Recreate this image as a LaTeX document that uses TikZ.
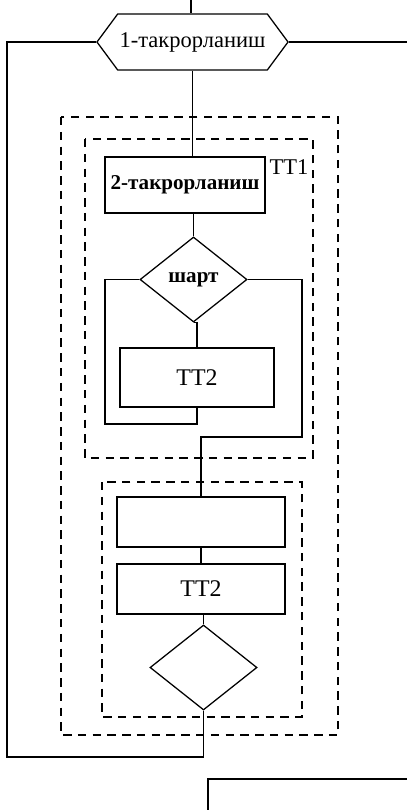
\documentclass[tikz,border=0pt]{standalone}
\usepackage{fontspec}
\setmainfont{Liberation Serif}
\usetikzlibrary{shapes.geometric,shapes.symbols}

\tikzset{
  blk/.style={draw, rectangle, inner sep=0pt, line width=0.9pt},
  cond/.style={draw, diamond, inner sep=0pt, line width=0.9pt,
    minimum width=2.675cm, minimum height=2.125cm},
  loophead/.style={draw, signal, signal to=east and west,
    signal pointer angle=107, inner sep=0pt, line width=0.9pt,
    minimum width=4.775cm, minimum height=1.4cm},
  frame/.style={line width=0.9pt, dash pattern=on 6pt off 4.5pt},
  wire/.style={line width=0.9pt},
  txt/.style={font=\fontsize{16}{18}\selectfont},
  btxt/.style={font=\fontsize{15}{18}\selectfont\bfseries}
}

\begin{document}
\begin{tikzpicture}[x=0.025cm, y=-0.025cm]
  \useasboundingbox (0,0) rectangle (407,810);
  \clip (0,0) rectangle (407,810);

  % outer loop
  \node[loophead, txt] (hex) at (192.5,42) {1-такрорланиш};
  \coordinate (entry) at (191,0);
  \coordinate (exitR) at (407,42);
  \coordinate (loopL) at (7,757);

  % groups
  \draw[frame] (61,117) rectangle (338,735);
  \draw[frame] (85,139) rectangle (313,458);
  \draw[frame] (102,482) rectangle (302,717);
  \node[txt] (tt1) at (289,167) {TT1};

  % inner loop
  \node[blk, btxt, minimum width=4cm, minimum height=1.4cm] (inner) at (185,185) {2-такрорланиш};
  \node[cond, btxt] (shart) at (193.5,279.5) {шарт};
  \node[blk, txt, font=\fontsize{17}{19}\selectfont, minimum width=3.85cm, minimum height=1.475cm] (tta) at (197,377.5) {TT2};
  \coordinate (backL) at (105,424);
  \coordinate (outR) at (302,437);

  % body after the inner loop
  \node[blk, minimum width=4.2cm, minimum height=1.25cm] (empty) at (201,522) {};
  \node[blk, txt, font=\fontsize{17}{19}\selectfont, minimum width=4.2cm, minimum height=1.25cm] (ttb) at (201,589) {TT2};
  \node[cond] (cond2) at (203.5,667.5) {};

  % next block
  \node[blk, minimum width=6.5cm, minimum height=1.75cm] (next) at (338,814) {};

  % connectors
  \draw[wire] (entry) -- (hex.north -| entry);
  \draw[wire] (hex.east) -- (exitR);
  \draw[wire] (hex.west) -| (loopL) -| (cond2.south);
  \draw[wire] (hex.south) -- (hex.south |- inner.north);
  \draw[wire] (shart.north |- inner.south) -- (shart.north);
  \draw[wire] (shart.south) -- (shart.south -| tta.north) -- (tta.north);
  \draw[wire] (shart.west) -| (backL) -| (tta.south);
  \draw[wire] (shart.east) -| (outR) -| (empty.north);
  \draw[wire] (empty.south) -- (ttb.north);
  \draw[wire] (ttb.south) -- (ttb.south -| cond2.north) -- (cond2.north);
\end{tikzpicture}
\end{document}
